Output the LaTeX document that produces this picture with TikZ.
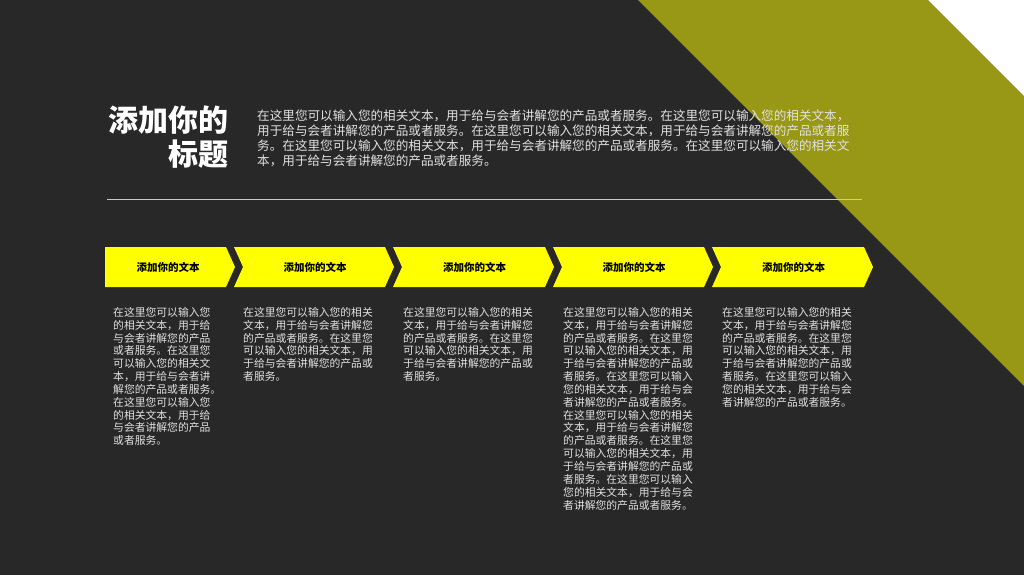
\documentclass[tikz,border=0pt]{standalone}
\usepackage{xcolor}
\usepackage{fontspec}
\setmainfont{Noto Sans CJK SC}
\usepackage{tikz}
\usetikzlibrary{positioning}

\definecolor{bgdark}{RGB}{40,40,40}
\definecolor{olive}{RGB}{152,152,22}
\definecolor{chevyellow}{RGB}{255,255,0}
\definecolor{bodygray}{RGB}{225,225,225}
\definecolor{rulegray}{RGB}{200,200,200}

\begin{document}
\begin{tikzpicture}[x=1pt, y=-1pt,
				chevron/.style={fill=chevyellow, draw=none},
				chevlabel/.style={inner sep=0pt, font=\fontsize{10.5}{12}\selectfont\bfseries, text=black},
				blocktext/.style={anchor=north west, inner sep=0pt, align=left, text=bodygray,
					font=\fontsize{10.8}{12.85}\selectfont}]

				% background and diagonal bands
				\fill[bgdark] (0,0) rectangle (1024,575);
				\useasboundingbox (0,0) rectangle (1024,575);
				\fill[olive] (638,0) -- (928,0) -- (1024,96) -- (1024,386) -- cycle;
				\fill[white] (928,0) -- (1024,0) -- (1024,96) -- cycle;

				% title and intro
				\node[anchor=north east, inner sep=0pt, align=right, text=white,
					font=\fontsize{30}{34}\selectfont\bfseries] (title) at (229,106) {添加你的\\标题};
				\node[anchor=north west, inner sep=0pt, align=left, text=bodygray,
					font=\fontsize{12.6}{14.8}\selectfont] (intro) at (257,110)
					{在这里您可以输入您的相关文本，用于给与会者讲解您的产品或者服务。在这里您可以输入您的相关文本，\\
					用于给与会者讲解您的产品或者服务。在这里您可以输入您的相关文本，用于给与会者讲解您的产品或者服\\
					务。在这里您可以输入您的相关文本，用于给与会者讲解您的产品或者服务。在这里您可以输入您的相关文\\
					本，用于给与会者讲解您的产品或者服务。};
				\coordinate (ruleL) at (107,199);
				\coordinate (ruleR) at (862,199);
				\draw[rulegray, line width=1pt] (ruleL) -- (ruleR);

				% chevrons
				\fill[chevron] (105,247) -- (226,247) -- (235,267) -- (226,287) -- (105,287) -- cycle;
				\node[chevlabel] (lab1) at (168,267) {添加你的文本};
				\foreach \l/\r/\i in {234/394/2, 393/554/3, 553/713/4, 712/873/5} {
					\fill[chevron] (\l,247) -- (\r-9,247) -- (\r,267) -- (\r-9,287) -- (\l,287) -- (\l+9,267) -- cycle;
					\node[chevlabel] (lab\i) at ({(\l+\r)/2+1},267) {添加你的文本};
				}

				% text under each step
				\node[blocktext] (body1) at (113,307) {在这里您可以输入您\\的相关文本，用于给\\与会者讲解您的产品\\或者服务。在这里您\\可以输入您的相关文\\本，用于给与会者讲\\解您的产品或者服务。\\在这里您可以输入您\\的相关文本，用于给\\与会者讲解您的产品\\或者服务。};
				\node[blocktext] (body2) at (243,307) {在这里您可以输入您的相关\\文本，用于给与会者讲解您\\的产品或者服务。在这里您\\可以输入您的相关文本，用\\于给与会者讲解您的产品或\\者服务。};
				\node[blocktext] (body3) at (403,307) {在这里您可以输入您的相关\\文本，用于给与会者讲解您\\的产品或者服务。在这里您\\可以输入您的相关文本，用\\于给与会者讲解您的产品或\\者服务。};
				\node[blocktext] (body4) at (563,307) {在这里您可以输入您的相关\\文本，用于给与会者讲解您\\的产品或者服务。在这里您\\可以输入您的相关文本，用\\于给与会者讲解您的产品或\\者服务。在这里您可以输入\\您的相关文本，用于给与会\\者讲解您的产品或者服务。\\在这里您可以输入您的相关\\文本，用于给与会者讲解您\\的产品或者服务。在这里您\\可以输入您的相关文本，用\\于给与会者讲解您的产品或\\者服务。在这里您可以输入\\您的相关文本，用于给与会\\者讲解您的产品或者服务。};
				\node[blocktext] (body5) at (722,307) {在这里您可以输入您的相关\\文本，用于给与会者讲解您\\的产品或者服务。在这里您\\可以输入您的相关文本，用\\于给与会者讲解您的产品或\\者服务。在这里您可以输入\\您的相关文本，用于给与会\\者讲解您的产品或者服务。};
			\end{tikzpicture}
\end{document}
